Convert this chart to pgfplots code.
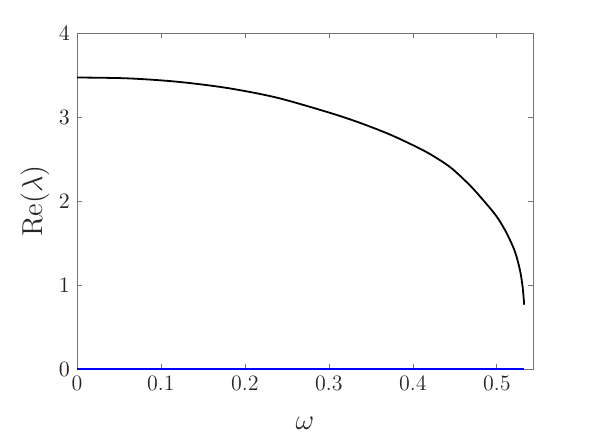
\documentclass[border=0pt]{standalone}
\usepackage{pgfplots}
\pgfplotsset{compat=1.18}
\begin{document}
\begin{tikzpicture}
\begin{axis}[
  scale only axis,
  width=228pt, height=168pt,
  xmin=0, xmax=0.543,
  ymin=0, ymax=4,
  xtick={0,0.1,0.2,0.3,0.4,0.5},
  ytick={0,1,2,3,4},
  xticklabels={0,0.1,0.2,0.3,0.4,0.5},
  tick align=inside,
  major tick length=2.5pt,
  axis line style={black!55, line width=0.4pt},
  every tick/.style={black!55, line width=0.4pt},
  tick label style={font=\fontsize{11}{13}\selectfont, black!85},
  xlabel={$\omega$},
  ylabel={$\mathrm{Re}(\lambda)$},
  label style={font=\fontsize{14}{16}\selectfont, black!85},
  xlabel style={yshift=-6pt},
  ylabel style={yshift=-2pt},
  clip=false,
]
% Re(lambda) branch
\addplot[black, line width=0.9pt, line join=round, smooth, tension=0.5] coordinates {
  (0, 3.47)
  (0.06, 3.46)
  (0.119, 3.42)
  (0.179, 3.345)
  (0.238, 3.23)
  (0.301, 3.05)
  (0.337, 2.93)
  (0.373, 2.79)
  (0.408, 2.625)
  (0.426, 2.525)
  (0.446, 2.39)
  (0.468, 2.185)
  (0.4837, 2.01)
  (0.4996, 1.817)
  (0.5115, 1.62)
  (0.5214, 1.40)
  (0.5274, 1.18)
  (0.5306, 0.98)
  (0.5325, 0.765)
};
% zero branch
\addplot[blue, line width=0.9pt] coordinates {
  (0, 0)
  (0.5325, 0)
};
\end{axis}
\path[use as bounding box] (-38.5pt,-36.35pt) rectangle (256pt,184.5pt);
\end{tikzpicture}
\end{document}
